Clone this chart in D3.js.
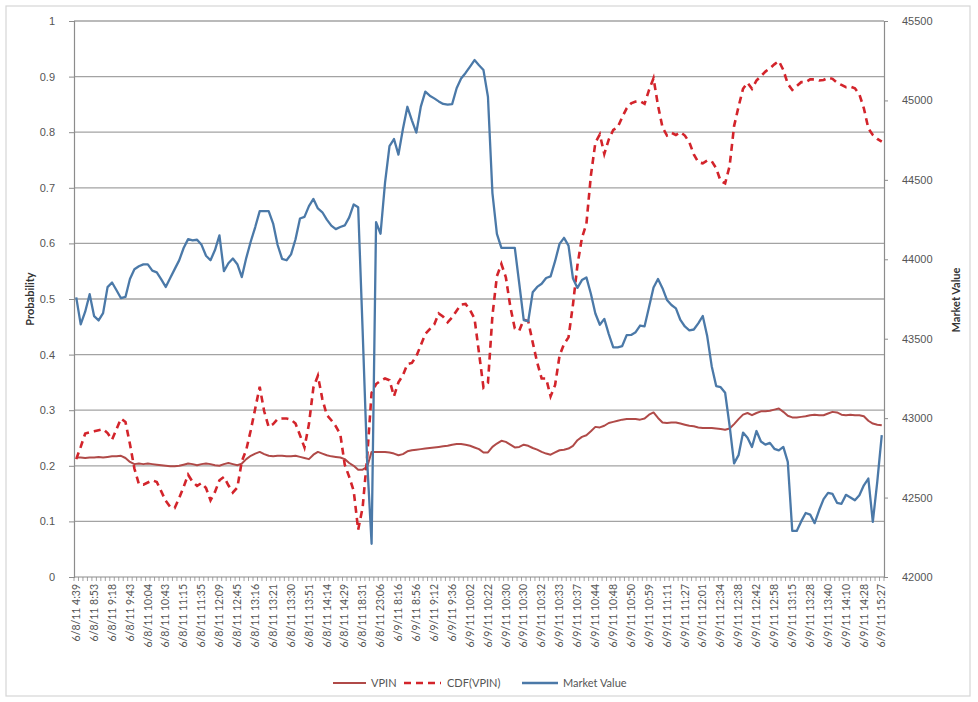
<!DOCTYPE html>
<html><head><meta charset="utf-8">
<script src="https://cdn.jsdelivr.net/npm/d3@7"></script>
<style>body{margin:0;background:#fff;}svg{display:block;font-family:Lato,"Open Sans",sans-serif;}</style>
</head><body><svg id="c" width="978" height="702"></svg>
<script>
const tickLabels = ["6/8/11 4:39","6/8/11 8:53","6/8/11 9:18","6/8/11 9:43","6/8/11 10:04","6/8/11 10:43","6/8/11 11:15","6/8/11 11:35","6/8/11 12:09","6/8/11 12:45","6/8/11 13:16","6/8/11 13:21","6/8/11 13:30","6/8/11 13:51","6/8/11 14:14","6/8/11 14:29","6/8/11 18:31","6/8/11 23:06","6/9/11 8:16","6/9/11 8:56","6/9/11 9:12","6/9/11 9:36","6/9/11 10:02","6/9/11 10:22","6/9/11 10:30","6/9/11 10:30","6/9/11 10:32","6/9/11 10:33","6/9/11 10:37","6/9/11 10:44","6/9/11 10:48","6/9/11 10:50","6/9/11 10:59","6/9/11 11:11","6/9/11 11:27","6/9/11 12:01","6/9/11 12:34","6/9/11 12:38","6/9/11 12:42","6/9/11 12:58","6/9/11 13:15","6/9/11 13:28","6/9/11 13:40","6/9/11 14:10","6/9/11 14:28","6/9/11 15:27"];
const labelEvery = 4;
const seriesNames = ["VPIN","CDF(VPIN)","Market Value"];
const leftTicks = [0,0.1,0.2,0.3,0.4,0.5,0.6,0.7,0.8,0.9,1];
const rightTicks = [42000,42500,43000,43500,44000,44500,45000,45500];

const vpin = [.215,.215,.214,.215,.215,.216,.215,.216,.217,.217,.218,.214,.207,.203,
.204,.203,.204,.203,.202,.201,.200,.199,.199,.200,.202,.204,.203,.201,.203,.204,.203,.201,.200,.203,.205,.203,.201,
.204,.212,.218,.222,.225,.221,.218,.217,.218,.218,.217,.217,.218,.216,.214,.212,.220,.225,.222,.219,.217,.216,.215,.212,.205,.200,.193,.193,.198,
.225,.225,.225,.225,.224,.222,.219,.221,.226,.228,.229,.230,.231,.232,.233,.234,.235,.236,.238,.239,.239,.238,.236,.233,.230,.224,.224,.234,.240,.245,.243,.238,.233,.234,.238,.236,.232,.229,.225,.222,.220,.224,.228,.229,.231,.236,.246,.252,.255,.262,.270,.269,.272,.277,.279,.281,.283,.284,.284,.284,.283,.285,.292,.296,.286,.278,.277,.278,.278,.276,.274,.272,.271,.269,.268,.268,.268,.267,.266,.265,.267,.275,.284,.292,.295,.291,.295,.298,.298,.299,.301,.303,.297,.290,.287,.287,.288,.289,.291,.292,.291,.291,.294,.297,.296,.292,.291,.292,.291,.291,.289,.281,.276,.274,.273];

const cdf = [.212,.234,.258,.260,.262,.264,.266,.259,.247,.266,.285,.279,.239,.195,.167,.166,.170,.174,.171,.154,.137,.126,.124,.142,.162,.184,.171,.164,.169,.160,.138,.153,.174,.180,.165,.152,.161,.208,.229,.264,.303,.342,.298,.270,.275,.284,.285,.285,.283,.276,.255,.233,.275,.341,.362,.320,.291,.282,.271,.257,.202,.180,.155,.085,.125,.215,.331,.347,.353,.357,.354,.325,.350,.363,.383,.385,.397,.417,.437,.446,.454,.474,.468,.458,.467,.479,.490,.491,.480,.465,.403,.341,.349,.470,.541,.563,.539,.486,.447,.443,.463,.460,.422,.386,.357,.357,.325,.345,.398,.419,.431,.490,.561,.610,.635,.722,.781,.796,.761,.787,.804,.809,.827,.843,.852,.855,.856,.851,.876,.897,.848,.809,.794,.799,.795,.800,.794,.782,.760,.746,.744,.749,.748,.735,.712,.708,.739,.811,.846,.878,.889,.878,.893,.901,.909,.915,.922,.928,.912,.887,.876,.883,.890,.890,.895,.895,.893,.894,.898,.896,.889,.885,.881,.882,.879,.868,.843,.807,.795,.788,.783];

const market = [43760,43590,43670,43780,43642,43615,43661,43825,43854,43805,43755,43763,43876,43937,43956,43968,43968,43929,43918,43874,43826,43882,43938,43993,44071,44127,44119,44123,44091,44022,43994,44058,44150,43925,43975,44005,43969,43888,44009,44112,44203,44303,44303,44303,44225,44090,44003,43994,44031,44126,44257,44267,44335,44380,44320,44296,44250,44212,44190,44203,44213,44264,44345,44328,43549,42734,42209,44233,44161,44481,44713,44757,44659,44820,44960,44875,44797,44961,45055,45030,45013,44994,44978,44973,44977,45077,45138,45173,45213,45254,45221,45191,45023,44417,44160,44072,44072,44072,44072,43846,43617,43610,43792,43826,43846,43882,43892,43988,44097,44135,44086,43879,43820,43869,43886,43783,43659,43588,43625,43529,43446,43446,43454,43523,43524,43541,43583,43578,43700,43822,43876,43818,43744,43712,43691,43618,43577,43553,43558,43597,43643,43515,43327,43202,43195,43160,42952,42715,42767,42909,42877,42818,42919,42853,42833,42844,42807,42797,42819,42725,42290,42290,42350,42403,42393,42339,42420,42490,42530,42523,42467,42461,42517,42501,42483,42515,42577,42620,42347,42600,42893];

const colors = {vpin:"#b04a48", cdf:"#d3242b", market:"#4b79a8"};
const L=74, R=884, T=21, B=577;
const svg = d3.select("#c");
svg.append("rect").attr("x",6).attr("y",6).attr("width",964).attr("height",690)
  .attr("fill","#fff").attr("stroke","#d6d6d6").attr("stroke-width",1.2);

const n = vpin.length;
const x = d3.scaleBand().domain(d3.range(n)).range([L,R]).paddingInner(0).paddingOuter(0);
const cx = i => x(i) + x.bandwidth()/2;
const yL = d3.scaleLinear().domain([0,1]).range([B,T]);
const yR = d3.scaleLinear().domain([42000,45500]).range([B,T]);

// gridlines
svg.append("g").selectAll("line").data(leftTicks.filter(d=>d>0)).join("line")
  .attr("x1",L).attr("x2",R).attr("y1",d=>yL(d)).attr("y2",d=>yL(d))
  .attr("stroke","#a3a3a3").attr("stroke-width",1.3);

// left axis
const gl = svg.append("g").attr("transform",`translate(${L},0)`)
  .call(d3.axisLeft(yL).tickValues(leftTicks).tickSize(5).tickPadding(14)
    .tickFormat(d=> d===0?"0":(d===1?"1":d3.format(".1f")(d))));
gl.select(".domain").attr("stroke","#8c8c8c").attr("stroke-width",1.2);
gl.selectAll(".tick line").attr("stroke","#8c8c8c");
gl.selectAll("text").attr("fill","#555").attr("font-size",11);

// right axis
const gr = svg.append("g").attr("transform",`translate(${R},0)`)
  .call(d3.axisRight(yR).tickValues(rightTicks).tickSize(4).tickPadding(14).tickFormat(d3.format("d")));
gr.select(".domain").attr("stroke","#8c8c8c").attr("stroke-width",1.2);
gr.selectAll(".tick line").attr("stroke","#8c8c8c");
gr.selectAll("text").attr("fill","#555").attr("font-size",11);

// bottom axis
svg.append("line").attr("x1",L).attr("x2",R).attr("y1",B).attr("y2",B).attr("stroke","#8c8c8c").attr("stroke-width",1.2);
svg.append("g").selectAll("line").data(d3.range(n+1)).join("line")
  .attr("x1",i=> i<n ? x(i) : R).attr("x2",i=> i<n ? x(i) : R)
  .attr("y1",B).attr("y2",B+4).attr("stroke","#8c8c8c").attr("stroke-width",0.8);
svg.append("g").selectAll("text").data(tickLabels).join("text")
  .attr("transform",(d,k)=>`translate(${cx(k*labelEvery)},584) rotate(-90)`)
  .attr("text-anchor","end").attr("dy","0.35em")
  .attr("font-size",10.5).attr("fill","#555").text(d=>d);

// axis titles
svg.append("text").attr("transform","translate(34,299) rotate(-90)").attr("text-anchor","middle")
  .attr("font-size",11).attr("font-weight","bold").attr("fill","#333").text("Probability");
svg.append("text").attr("transform","translate(960,300) rotate(-90)").attr("text-anchor","middle")
  .attr("font-size",11).attr("font-weight","bold").attr("fill","#333").text("Market Value");

// lines
const lineL = d3.line().x((d,i)=>cx(i)).y(d=>yL(d));
const lineR = d3.line().x((d,i)=>cx(i)).y(d=>yR(d));
svg.append("path").datum(vpin).attr("d",lineL).attr("fill","none")
  .attr("stroke",colors.vpin).attr("stroke-width",2).attr("stroke-linejoin","round");
svg.append("path").datum(cdf).attr("d",lineL).attr("fill","none")
  .attr("stroke",colors.cdf).attr("stroke-width",2.6).attr("stroke-dasharray","7,5");
svg.append("path").datum(market).attr("d",lineR).attr("fill","none")
  .attr("stroke",colors.market).attr("stroke-width",2.3).attr("stroke-linejoin","round");

// legend
const leg = [
  {name:seriesNames[0], c:colors.vpin, dash:null, x1:333, x2:366, tx:371, w:2},
  {name:seriesNames[1], c:colors.cdf, dash:"7,5", x1:404, x2:441, tx:447, w:2.6},
  {name:seriesNames[2], c:colors.market, dash:null, x1:522, x2:558, tx:563, w:2.3}
];
const lg = svg.append("g");
leg.forEach(o=>{
  lg.append("line").attr("x1",o.x1).attr("x2",o.x2).attr("y1",683).attr("y2",683)
    .attr("stroke",o.c).attr("stroke-width",o.w).attr("stroke-dasharray",o.dash);
  lg.append("text").attr("x",o.tx).attr("y",683).attr("dy","0.35em").attr("font-size",11)
    .attr("fill","#555").text(o.name);
});
</script></body></html>
